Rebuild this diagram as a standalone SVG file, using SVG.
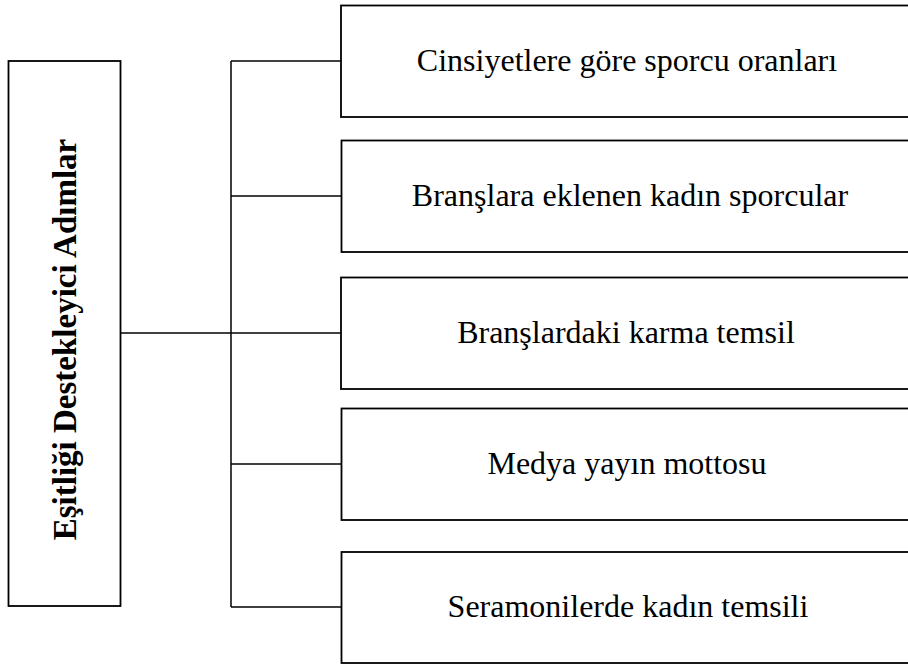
<svg xmlns="http://www.w3.org/2000/svg" width="908" height="664" viewBox="0 0 908 664">
<style>
.box{fill:#fff;stroke:#000;stroke-width:1.8}
.ln{fill:none;stroke:#000;stroke-width:1.5}
.t{font-family:"Liberation Serif","Times New Roman",serif;font-size:32px;fill:#000;text-anchor:middle}
.tb{font-weight:bold;font-size:33px}
</style>
<rect width="908" height="664" fill="#fff"/>
<g id="connectors">
<line class="ln" x1="121" y1="333" x2="231" y2="333"/>
<line class="ln" x1="231" y1="61" x2="231" y2="607"/>
<line class="ln" x1="231" y1="61" x2="341" y2="61"/>
<line class="ln" x1="231" y1="196" x2="341" y2="196"/>
<line class="ln" x1="231" y1="333" x2="341" y2="333"/>
<line class="ln" x1="231" y1="464" x2="341" y2="464"/>
<line class="ln" x1="231" y1="607" x2="341" y2="607"/>
</g>
<g id="root">
<rect class="box" x="8.5" y="61" width="112" height="545"/>
<text class="t tb" transform="translate(76,339.5) rotate(-90)" x="0" y="0">Eşitliği Destekleyici Adımlar</text>
</g>
<g id="n1">
<rect class="box" x="341" y="5.5" width="590" height="111.5"/>
<text class="t" x="627" y="71">Cinsiyetlere göre sporcu oranları</text>
</g>
<g id="n2">
<rect class="box" x="341.5" y="140.5" width="590" height="111.5"/>
<text class="t" x="630" y="206">Branşlara eklenen kadın sporcular</text>
</g>
<g id="n3">
<rect class="box" x="341" y="277.5" width="590" height="111.5"/>
<text class="t" x="626" y="343">Branşlardaki karma temsil</text>
</g>
<g id="n4">
<rect class="box" x="341.5" y="408.5" width="590" height="111.5"/>
<text class="t" x="627" y="474">Medya yayın mottosu</text>
</g>
<g id="n5">
<rect class="box" x="341.5" y="552" width="590" height="111"/>
<text class="t" x="628" y="617">Seramonilerde kadın temsili</text>
</g>
</svg>
